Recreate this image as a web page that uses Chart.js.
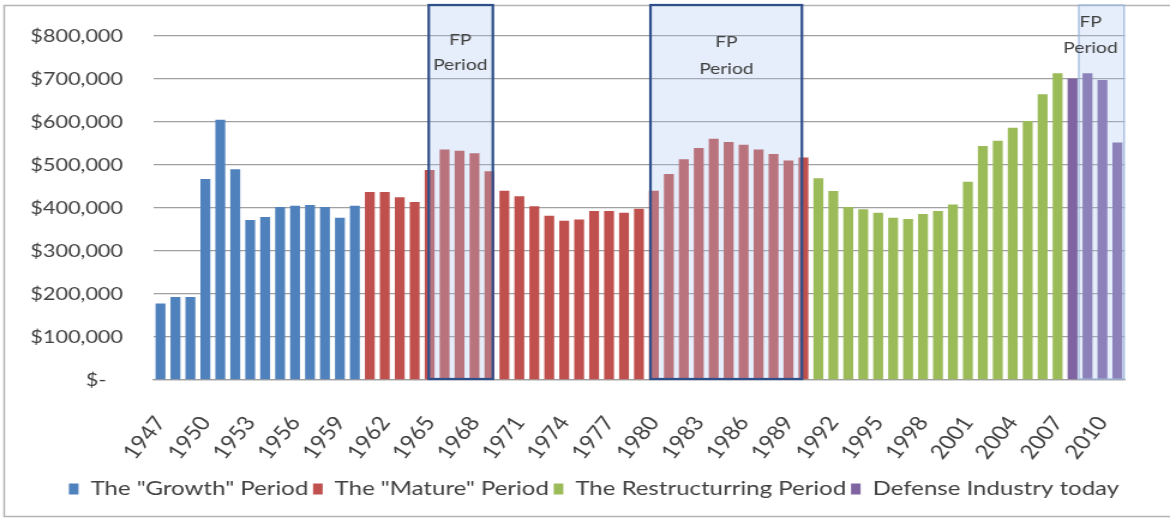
<!DOCTYPE html>
<html>
<head>
<meta charset="utf-8">
<script src="https://cdn.jsdelivr.net/npm/chart.js@4.4.1/dist/chart.umd.min.js"></script>
<style>
  html, body { margin: 0; padding: 0; background: #fff; }
  canvas { display: block; }
</style>
</head>
<body>
<!-- the reference is a horizontally stretched Excel chart, so the canvas is drawn narrow and widened by CSS -->
<canvas id="chart" width="975" height="524" style="width:1170px;height:524px"></canvas>
<script>
// Years on the x axis
const years = [
  1947, 1948, 1949, 1950, 1951, 1952, 1953, 1954, 1955, 1956, 1957, 1958, 1959, 1960,
  1961, 1962, 1963, 1964, 1965, 1966, 1967, 1968, 1969, 1970, 1971, 1972, 1973, 1974,
  1975, 1976, 1977, 1978, 1979, 1980, 1981, 1982, 1983, 1984, 1985, 1986, 1987, 1988,
  1989, 1990, 1991, 1992, 1993, 1994, 1995, 1996, 1997, 1998, 1999, 2000, 2001, 2002,
  2003, 2004, 2005, 2006, 2007, 2008, 2009, 2010, 2011
];

// Values per period (start year given next to each)
const growthStart = 1947;
const growthValues = [178000, 193000, 193000, 467000, 605000, 490000, 372000, 379000,
  402000, 405000, 407000, 402000, 377000, 405000];

const matureStart = 1961;
const matureValues = [437000, 437000, 425000, 414000, 488000, 536000, 533000, 527000,
  485000, 440000, 427000, 404000, 382000, 370000, 373000, 393000, 393000, 389000,
  398000, 440000, 479000, 513000, 539000, 561000, 553000, 547000, 536000, 525000,
  510000, 517000];

const restructStart = 1991;
const restructValues = [469000, 439000, 402000, 397000, 389000, 377000, 374000, 386000,
  393000, 408000, 461000, 544000, 556000, 586000, 602000, 664000, 713000];

const todayStart = 2008;
const todayValues = [701000, 713000, 697000, 552000];

// Legend names
const seriesNames = ['The "Growth" Period', 'The "Mature" Period', 'The Restructurring Period', 'Defense Industry today'];

// y axis ticks
const yTicks = [0, 100000, 200000, 300000, 400000, 500000, 600000, 700000, 800000];

// "FP Period" boxes, in years (fractions reach the box edges)
const fpPeriods = [
  { from: 1964.94, to: 1969.23, labelAt: 1967.05, labelY: [40, 65], faint: false },
  { from: 1979.77, to: 1989.9, labelAt: 1984.85, labelY: [42, 69], faint: false },
  { from: 2008.42, to: 2011.45, labelAt: 2009.2, labelY: [22, 48], faint: true }
];

const colors = ['#4f81bd', '#c0504d', '#9bbb59', '#8064a2'];
const FONT = 'Lato';
const TEXT = '#404040';

// place a period's values on the full year axis
function place(values, start) {
  return years.map(y => {
    const i = y - start;
    return i >= 0 && i < values.length ? values[i] : null;
  });
}

const framePlugin = {
  id: 'frame',
  beforeDraw(chart) {
    const ctx = chart.ctx;
    ctx.save();
    ctx.fillStyle = '#fff';
    ctx.fillRect(0, 0, chart.width, chart.height);
    ctx.strokeStyle = '#b4b4b4';
    ctx.lineWidth = 1.5;
    ctx.strokeRect(3.5, 5.5, chart.width + 10, 511);
    ctx.restore();
  }
};

const fpPlugin = {
  id: 'fpPeriods',
  afterDatasetsDraw(chart) {
    const { ctx, chartArea } = chart;
    const x = chart.scales.x;
    fpPeriods.forEach(p => {
      const left = x.getPixelForValue(p.from - years[0]);
      const right = x.getPixelForValue(p.to - years[0]);
      const top = 5;
      const bottom = chartArea.bottom - 1;
      ctx.save();
      ctx.fillStyle = 'rgba(170, 200, 240, 0.3)';
      ctx.fillRect(left, top, right - left, bottom - top);
      ctx.strokeStyle = p.faint ? '#9ab5dc' : '#2f4f8a';
      ctx.lineWidth = p.faint ? 1.2 : 2.2;
      ctx.strokeRect(left, top, right - left, bottom - top);

      const cx = x.getPixelForValue(p.labelAt - years[0]);
      ctx.fillStyle = TEXT;
      ctx.font = '16px ' + FONT;
      ctx.textAlign = 'center';
      ctx.textBaseline = 'middle';
      ctx.fillText('FP', cx, p.labelY[0]);
      ctx.fillText('Period', cx, p.labelY[1]);
      ctx.restore();
    });
  }
};

new Chart(document.getElementById('chart'), {
  type: 'bar',
  data: {
    labels: years.map(String),
    datasets: [
      { label: seriesNames[0], data: place(growthValues, growthStart), backgroundColor: colors[0] },
      { label: seriesNames[1], data: place(matureValues, matureStart), backgroundColor: colors[1] },
      { label: seriesNames[2], data: place(restructValues, restructStart), backgroundColor: colors[2] },
      { label: seriesNames[3], data: place(todayValues, todayStart), backgroundColor: colors[3] }
    ]
  },
  options: {
    responsive: false,
    devicePixelRatio: 1,
    animation: false,
    barPercentage: 0.66,
    categoryPercentage: 1.0,
    layout: { padding: { top: 32, left: 20, right: 5, bottom: 15 } },
    plugins: {
      tooltip: { enabled: false },
      legend: {
        position: 'bottom',
        labels: {
          color: TEXT,
          font: { family: FONT, size: 20 },
          boxWidth: 8,
          boxHeight: 11,
          padding: 4
        }
      }
    },
    scales: {
      x: {
        stacked: true,
        grid: { display: false },
        border: { color: '#a0a0a0', width: 1.3 },
        ticks: {
          autoSkip: false,
          minRotation: 55,
          maxRotation: 55,
          padding: 24,
          color: TEXT,
          font: { family: FONT, size: 20 },
          callback: (v, i) => (i % 3 === 0 ? years[i] : '')
        },
        afterFit: scale => { scale.height = 95; }
      },
      y: {
        stacked: true,
        min: 0,
        max: 800000,
        afterBuildTicks: scale => { scale.ticks = yTicks.map(v => ({ value: v })); },
        grid: { color: '#a0a0a0', lineWidth: 1.3, drawTicks: false },
        border: { display: false },
        ticks: {
          padding: 25,
          color: TEXT,
          font: { family: FONT, size: 18 },
          callback: v => (v === 0 ? '$-   ' : '$' + v.toLocaleString('en-US'))
        },
        afterFit: scale => { scale.width = 107.5; }
      },
      // empty right axis, only keeps the plot clear of the right edge
      yRight: {
        position: 'right',
        display: true,
        grid: { display: false },
        border: { display: false },
        ticks: { display: false },
        afterFit: scale => { scale.width = 20; }
      }
    }
  },
  plugins: [framePlugin, fpPlugin]
});
</script>
</body>
</html>
